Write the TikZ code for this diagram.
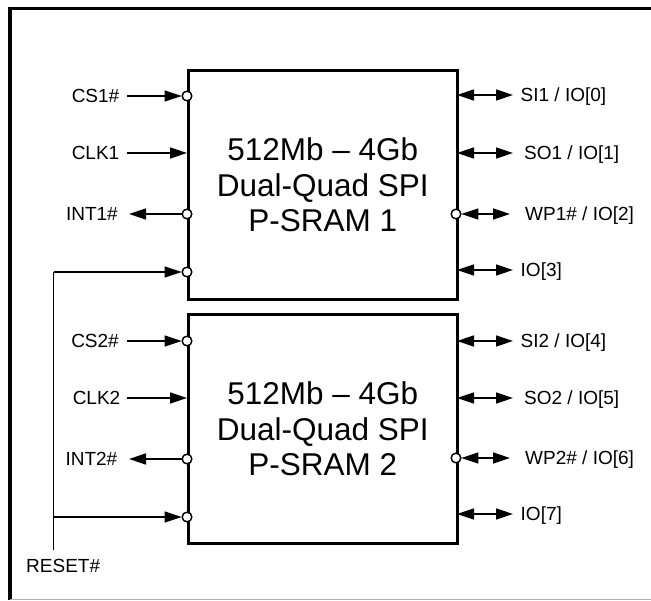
\documentclass[tikz,border=0pt]{standalone}
\usepackage{fontspec}
\setmainfont{Liberation Sans}
\usetikzlibrary{arrows.meta}
\tikzset{
  pinlbl/.style={font=\fontsize{19}{22}\selectfont, inner sep=0pt},
  chip/.style={draw, line width=2.6pt, minimum width=269pt, minimum height=229pt, inner sep=0pt, anchor=north west, align=center, font=\fontsize{31.5}{35.5}\selectfont},
  bub/.style={circle, draw, fill=white, minimum size=9.5pt, inner sep=0pt, line width=1.3pt},
  sig/.style={line width=1.5pt},
  tipr/.style={sig, -{Triangle[length=17pt,width=11pt]}},
  tipb/.style={sig, {Triangle[length=17pt,width=11pt]}-{Triangle[length=17pt,width=11pt]}},
}
\begin{document}
\begin{tikzpicture}[x=1pt,y=-1pt]
\useasboundingbox (0,0) rectangle (651,601);
% frame
\draw[line width=3.5pt] (10,599.5) -- (10,8.5) -- (651,8.5);
\draw[black!30, line width=1pt] (10,599.5) -- (651,599.5);

% chips
\node[chip] (b1) at (187,69) {512Mb -- 4Gb\\Dual-Quad SPI\\P-SRAM 1};
\node[chip] (b2) at (187,313) {512Mb -- 4Gb\\Dual-Quad SPI\\P-SRAM 2};

% ---------- chip 1 left ----------
\node[pinlbl, anchor=base east] (lcs1) at (119.5,102.8) {CS1\#};
\node[pinlbl, anchor=base east] (lclk1) at (119.5,159.8) {CLK1};
\node[pinlbl, anchor=base east] (lint1) at (118,220.8) {INT1\#};
\coordinate (cs1s) at (127,96);
\coordinate (clk1s) at (127,153);
\coordinate (clk1e) at (187,153);
\coordinate (int1e) at (129,214);
\node[bub] (cs1c) at (187,96) {};
\node[bub] (int1c) at (187,214) {};
\node[bub] (rs1c) at (187,272) {};
% ---------- chip 2 left ----------
\node[pinlbl, anchor=base east] (lcs2) at (119,347.8) {CS2\#};
\node[pinlbl, anchor=base east] (lclk2) at (120.5,404.8) {CLK2};
\node[pinlbl, anchor=base east] (lint2) at (117.5,465.8) {INT2\#};
\coordinate (cs2s) at (127,341);
\coordinate (clk2s) at (127,398);
\coordinate (clk2e) at (187,398);
\coordinate (int2e) at (129,459);
\node[bub] (cs2c) at (187,341) {};
\node[bub] (int2c) at (187,459) {};
\node[bub] (rs2c) at (187,517) {};
% reset
\coordinate (rtop) at (53.5,272);
\coordinate (rmid) at (53.5,517);
\coordinate (rbot) at (53.5,550);
\node[pinlbl, anchor=base west] (lrst) at (26,572) {RESET\#};

% ---------- right side ----------
\coordinate (si1a) at (457,95);   \coordinate (si1b) at (513,95);
\coordinate (so1a) at (457,153);  \coordinate (so1b) at (513,153);
\node[bub] (wp1c) at (456,214) {};\coordinate (wp1b) at (510,214);
\coordinate (io3a) at (457,270);  \coordinate (io3b) at (513,270);
\coordinate (si2a) at (457,341);  \coordinate (si2b) at (513,341);
\coordinate (so2a) at (457,398);  \coordinate (so2b) at (513,398);
\node[bub] (wp2c) at (456,458) {};\coordinate (wp2b) at (510,458);
\coordinate (io7a) at (457,514);  \coordinate (io7b) at (513,514);

\node[pinlbl, anchor=base west] (lsi1) at (520.5,101.8) {SI1 / IO[0]};
\node[pinlbl, anchor=base west] (lso1) at (524,159.8) {SO1 / IO[1]};
\node[pinlbl, anchor=base west] (lwp1) at (525,220.8) {WP1\# / IO[2]};
\node[pinlbl, anchor=base west] (lio3) at (520.5,276.8) {IO[3]};
\node[pinlbl, anchor=base west] (lsi2) at (520.5,347.8) {SI2 / IO[4]};
\node[pinlbl, anchor=base west] (lso2) at (524,404.8) {SO2 / IO[5]};
\node[pinlbl, anchor=base west] (lwp2) at (525,464.8) {WP2\# / IO[6]};
\node[pinlbl, anchor=base west] (lio7) at (520.5,520.8) {IO[7]};

% ---------- connectors ----------
\draw[tipr] (cs1s) -- (cs1c.west);
\draw[tipr] (clk1s) -- (clk1e);
\draw[tipr] (int1c.west) -- (int1e);
\draw[tipr] (cs2s) -- (cs2c.west);
\draw[tipr] (clk2s) -- (clk2e);
\draw[tipr] (int2c.west) -- (int2e);
\draw[tipr] (rtop) -- (rs1c.west);
\draw[sig] (rtop) -- (rbot);
\draw[tipr] (rmid) -- (rs2c.west);

\draw[tipb] (si1a) -- (si1b);
\draw[tipb] (so1a) -- (so1b);
\draw[tipb] (wp1c.east) -- (wp1b);
\draw[tipb] (io3a) -- (io3b);
\draw[tipb] (si2a) -- (si2b);
\draw[tipb] (so2a) -- (so2b);
\draw[tipb] (wp2c.east) -- (wp2b);
\draw[tipb] (io7a) -- (io7b);

% redraw bubbles on top
\foreach \n in {cs1c,int1c,rs1c,cs2c,int2c,rs2c,wp1c,wp2c}
  \node[bub] at (\n) {};
\end{tikzpicture}
\end{document}
